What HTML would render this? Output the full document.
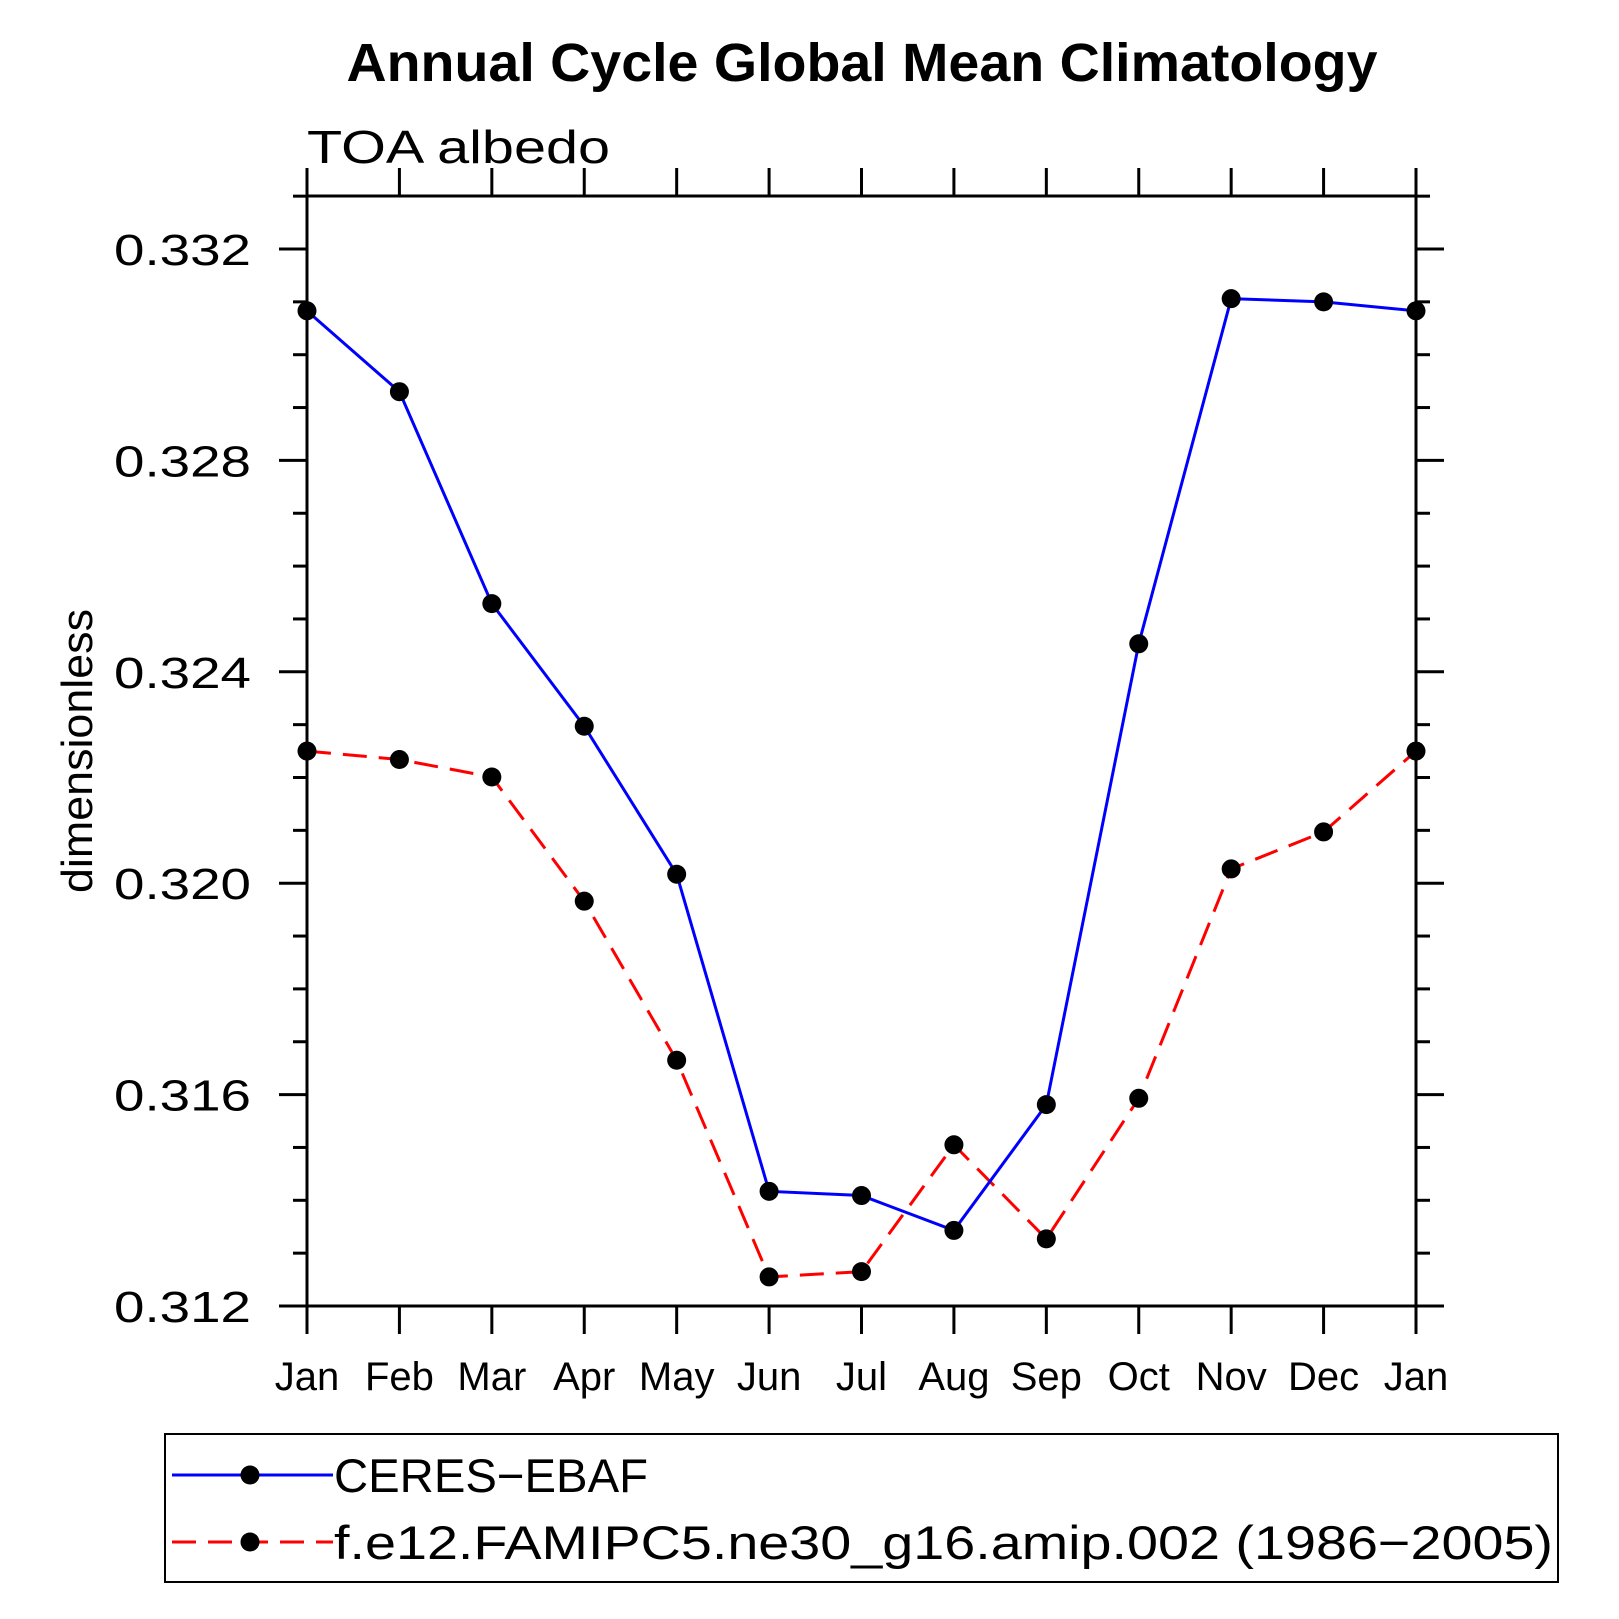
<!DOCTYPE html>
<html><head><meta charset="utf-8"><style>body{margin:0;background:#fff}svg{display:block}text{font-family:"Liberation Sans",sans-serif}</style></head>
<body>
<svg id="chart" width="1619" height="1619" xmlns="http://www.w3.org/2000/svg">
<text x="862" y="81" text-anchor="middle" font-size="54" font-weight="bold" textLength="1031" lengthAdjust="spacingAndGlyphs">Annual Cycle Global Mean Climatology</text>
<text x="307" y="163" font-size="46" textLength="303" lengthAdjust="spacingAndGlyphs">TOA  albedo</text>
<text transform="translate(92,751) rotate(-90)" text-anchor="middle" font-size="44" textLength="284" lengthAdjust="spacingAndGlyphs">dimensionless</text>
<g id="axes"></g>
<g id="series"></g>
<rect x="165" y="1434" width="1393" height="148" fill="none" stroke="#000" stroke-width="2"/>
<g>
<line x1="172" y1="1475" x2="333" y2="1475" stroke="#00f" stroke-width="3"/>
<circle cx="250" cy="1475" r="9.5" fill="#000"/>
<text x="334" y="1492" font-size="47" textLength="314" lengthAdjust="spacingAndGlyphs">CERES−EBAF</text>
</g>
<g>
<line x1="172" y1="1542" x2="333" y2="1542" stroke="#f00" stroke-width="3" stroke-dasharray="24,12"/>
<circle cx="250" cy="1542" r="9.5" fill="#000"/>
<text x="334" y="1559" font-size="47" textLength="1219" lengthAdjust="spacingAndGlyphs">f.e12.FAMIPC5.ne30_g16.amip.002 (1986−2005)</text>
</g>
</svg>
<script>
const months=["Jan","Feb","Mar","Apr","May","Jun","Jul","Aug","Sep","Oct","Nov","Dec","Jan"];
const ceres=[0.33083,0.3293,0.32529,0.32297,0.32017,0.31417,0.31409,0.31343,0.31581,0.32453,0.33106,0.3310,0.33083];
const model=[0.3225,0.32234,0.32201,0.31966,0.31665,0.31255,0.31265,0.31505,0.31327,0.31593,0.32027,0.32097,0.3225];
const yTicks=["0.312","0.316","0.320","0.324","0.328","0.332"];
const NS="http://www.w3.org/2000/svg";
const L=307,R=1416,T=196,B=1306,ymin=0.312,ymax=0.333;
const yS=v=>B-(v-ymin)/(0.332-ymin)*(B-249);
const xS=i=>L+i*(R-L)/(months.length-1);
function mk(tag,attrs,parent){const e=document.createElementNS(NS,tag);for(const k in attrs)e.setAttribute(k,attrs[k]);parent.appendChild(e);return e;}
const ax=document.getElementById('axes');
const frame=mk('rect',{x:L,y:T,width:R-L,height:B-T,fill:'none',stroke:'#000','stroke-width':3},ax);


for(let k=0;k<=21;k++){const v=ymin+k*0.001;const y=yS(v);const len=(k%4===0)?28:14;
 mk('line',{x1:L-len,y1:y,x2:L,y2:y,stroke:'#000','stroke-width':3},ax);
 mk('line',{x1:R,y1:y,x2:R+len,y2:y,stroke:'#000','stroke-width':3},ax);}
yTicks.forEach(t=>{const y=yS(parseFloat(t));const e=mk('text',{x:251,y:y+16,'text-anchor':'end','font-size':44,textLength:137,lengthAdjust:'spacingAndGlyphs'},ax);e.textContent=t;
 
 });
months.forEach((m,i)=>{const x=xS(i);
 mk('line',{x1:x,y1:B,x2:x,y2:B+28,stroke:'#000','stroke-width':3},ax);
 mk('line',{x1:x,y1:T,x2:x,y2:T-28,stroke:'#000','stroke-width':3},ax);
 const e=mk('text',{x:x,y:1390,'text-anchor':'middle','font-size':40},ax);e.textContent=m;
 
 });
const sg=document.getElementById('series');
function draw(vals,color,dash,name){const g=mk('g',{},sg);
 
 
 mk('polyline',{points:vals.map((v,i)=>xS(i)+','+yS(v)).join(' '),fill:'none',stroke:color,'stroke-width':3,'stroke-dasharray':dash},g);
 vals.forEach((v,i)=>{const c=mk('circle',{cx:xS(i),cy:yS(v),r:9.5,fill:'#000'},g);
  
  });}
draw(model,'#f00','24,12','model-series');
draw(ceres,'#00f','none','ceres-series');
</script>
</body></html>
